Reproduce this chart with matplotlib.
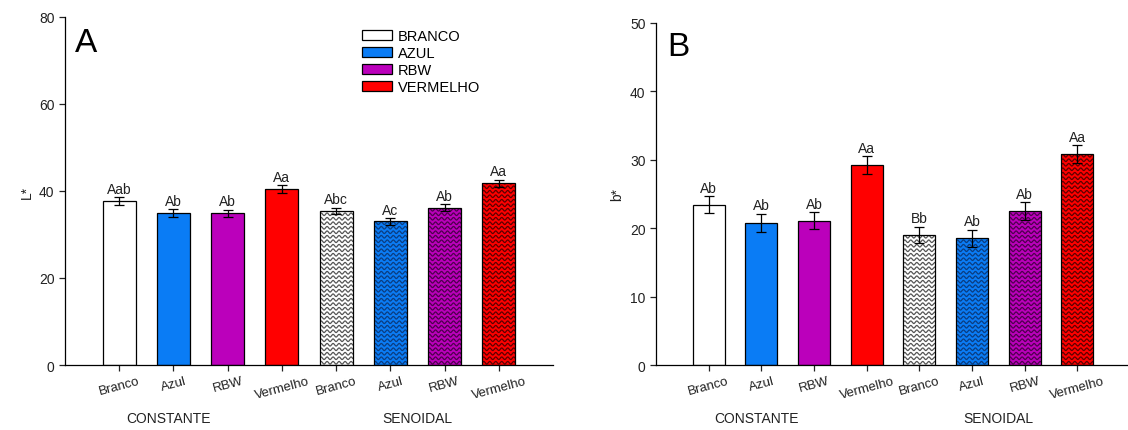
import matplotlib
matplotlib.use("Agg")
import matplotlib.pyplot as plt
from matplotlib.patches import Patch
import numpy as np

plt.rcParams['font.family'] = ['Liberation Sans', 'DejaVu Sans']

# treatments (same order in both panels)
tick_labels = ['Branco', 'Azul', 'RBW', 'Vermelho', 'Branco', 'Azul', 'RBW', 'Vermelho']
groups = ['CONSTANTE', 'SENOIDAL']
legend_labels = ['BRANCO', 'AZUL', 'RBW', 'VERMELHO']

# panel A: L*
l_mean = [37.7, 34.9, 34.9, 40.5, 35.4, 33.0, 36.2, 41.8]
l_err = [0.9, 0.9, 0.8, 0.9, 0.8, 0.8, 0.8, 0.8]
l_letters = ['Aab', 'Ab', 'Ab', 'Aa', 'Abc', 'Ac', 'Ab', 'Aa']

# panel B: b*
b_mean = [23.4, 20.8, 21.1, 29.2, 19.0, 18.5, 22.5, 30.8]
b_err = [1.25, 1.3, 1.2, 1.3, 1.2, 1.3, 1.3, 1.3]
b_letters = ['Ab', 'Ab', 'Ab', 'Aa', 'Bb', 'Ab', 'Ab', 'Aa']

colors = ['#ffffff', '#0a7cf5', '#bb00bb', '#ff0000']
wave_colors = ['#555555', '#0b3d80', '#4d004d', '#5c0000']

fig = plt.figure(figsize=(11.28, 4.31), dpi=100)
W, H = 1128, 431


def wavy_fill(ax, bars, wave_color, px_x, px_y):
    # sine-wave pattern clipped to each bar
    period = 6.0 / px_x
    amp = 1.3 / px_y
    step = 4.5 / px_y
    for bar in bars:
        x0 = bar.get_x()
        w = bar.get_width()
        h = bar.get_height()
        xs = np.linspace(x0, x0 + w, 200)
        for base in np.arange(step / 2, h + step, step):
            ys = base + amp * np.sin(2 * np.pi * (xs - x0) / period)
            ln, = ax.plot(xs, ys, color=wave_color, lw=0.9, zorder=2.2)
            ln.set_clip_path(bar)


def panel(rect, means, errs, letters, ymax, ystep, ylabel, tag, tag_xy, show_legend):
    ax = fig.add_axes(rect)
    x = np.arange(len(means))
    ax.set_xlim(-1, 8)
    ax.set_ylim(0, ymax)
    px_x = rect[2] * W / 9.0
    px_y = rect[3] * H / ymax

    facecols = colors + colors
    fills = ax.bar(x, means, width=0.61, color=facecols, edgecolor='none', zorder=2)
    for i in range(4):
        wavy_fill(ax, [fills[4 + i]], wave_colors[i], px_x, px_y)
    ax.bar(x, means, width=0.61, color='none', edgecolor='black', lw=0.9, zorder=2.5)
    ax.errorbar(x, means, yerr=errs, fmt='none', ecolor='black', elinewidth=0.9,
                capsize=3.5, capthick=0.9, zorder=3)

    for xi, m, e, t in zip(x, means, errs, letters):
        ax.annotate(t, (xi, m + e), xytext=(0, 1), textcoords='offset points',
                    ha='center', va='bottom', fontsize=10, color='#222222')

    for s in ['top', 'right']:
        ax.spines[s].set_visible(False)
    for s in ['left', 'bottom']:
        ax.spines[s].set_linewidth(0.9)

    ax.set_yticks(np.arange(0, ymax + 1, ystep))
    ax.set_xticks(x)
    ax.set_xticklabels(tick_labels, rotation=15, fontsize=9.5, color='#222222')
    ax.tick_params(axis='both', direction='out', length=4, width=0.9, colors='#222222',
                   labelsize=10)
    ax.tick_params(axis='x', labelsize=9.5, pad=3)
    ax.set_ylabel(ylabel, fontsize=10, color='#222222')

    for gx, g in zip([0.9, 5.5], groups):
        ax.annotate(g, (gx, 0), xycoords=('data', 'axes fraction'), xytext=(0, -53),
                    textcoords='offset pixels', ha='center', va='center',
                    fontsize=10, color='#222222')

    ax.text(tag_xy[0], tag_xy[1], tag, transform=fig.transFigure, fontsize=24,
            ha='left', va='center')

    if show_legend:
        handles = [Patch(facecolor=c, edgecolor='black', lw=0.9) for c in colors]
        ax.legend(handles, legend_labels, loc='upper left', bbox_to_anchor=(0.608, 0.965),
                  frameon=False, fontsize=10.5, handlelength=2.1, handleheight=0.7,
                  labelspacing=0.2, handletextpad=0.4, borderpad=0, borderaxespad=0)
    return ax


panel([65 / W, 1 - 366 / H, 488 / W, 348 / H], l_mean, l_err, l_letters, 80, 20,
      'L*', 'A', (75 / W, 1 - 43 / H), True)
panel([656 / W, 1 - 366 / H, 474 / W, 342 / H], b_mean, b_err, b_letters, 50, 10,
      'b*', 'B', (667 / W, 1 - 48 / H), False)

fig.savefig('out.png', dpi=100)
